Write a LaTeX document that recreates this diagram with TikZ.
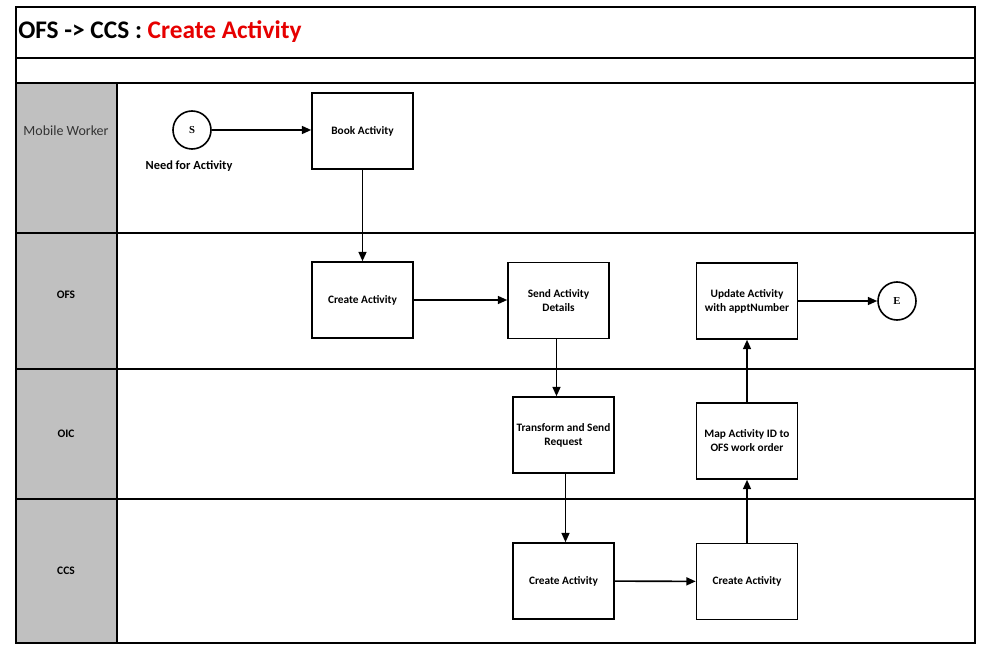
\documentclass[tikz,border=0pt]{standalone}
\usepackage{fontspec}
\setmainfont{Carlito}
\newfontfamily\serifb{Liberation Serif}
\usetikzlibrary{arrows.meta}
\definecolor{lanegray}{RGB}{192,192,192}
\definecolor{titlered}{RGB}{230,0,0}
\begin{document}
\begin{tikzpicture}[x=0.75pt,y=-0.75pt,
  lane/.style={draw=black,line width=0.9pt},
  label/.style={draw=black,line width=0.9pt,fill=lanegray},
  task/.style={draw=black,line width=1.2pt,minimum width=101*0.75pt,minimum height=76*0.75pt,align=center,font=\fontsize{8.5}{10.5}\selectfont\bfseries,inner sep=0pt},
  event/.style={draw=black,line width=1.2pt,circle,minimum size=38*0.75pt,inner sep=0pt,font=\fontsize{8}{9}\selectfont\serifb\bfseries},
  flow/.style={line width=1.2pt,-{Triangle[length=7pt,width=6pt]}},
  lanename/.style={font=\fontsize{8.6}{10}\selectfont\bfseries}]
\useasboundingbox (0,0) rectangle (981,645);
% frame
\draw[lane] (16,7) rectangle (975,643);
\draw[lane] (16,58) -- (975,58);
\node[anchor=west,inner sep=0pt] (title) at (18,32) {\fontsize{19}{22}\selectfont\bfseries OFS -> CCS : \textcolor{titlered}{Create Activity}};
% lanes
\draw[label] (16,233) rectangle (117,369);
\draw[label] (16,369) rectangle (117,499);
\draw[label] (16,499) rectangle (117,643);
\draw[lane] (117,233) rectangle (975,369);
\draw[lane] (117,369) rectangle (975,499);
\draw[lane] (117,499) rectangle (975,643);
\draw[label] (16,83) rectangle (117,233);
\draw[line width=1.6pt] (16,83) rectangle (975,233);
\node (lmw) at (66,131) {\fontsize{10.5}{12}\selectfont\color{black!80} Mobile Worker};
\node[lanename] (lofs) at (66,295) {OFS};
\node[lanename] (loic) at (66,434) {OIC};
\node[lanename] (lccs) at (66,571) {CCS};
% events and tasks
\node[event] (s) at (192,130) {S};
\node[font=\fontsize{9.3}{11}\selectfont\bfseries] (need) at (189,166) {Need for Activity};
\node[task] (book) at (362.5,131) {Book Activity};
\node[task] (create1) at (362.5,300) {Create Activity};
\node[task] (send) at (558.5,300.5) {Send Activity\\Details};
\node[task] (update) at (747,301) {Update Activity\\with apptNumber};
\node[event] (e) at (897,301) {E};
\node[task] (transform) at (563.5,435) {Transform and Send\\Request};
\node[task] (map) at (747,441) {Map Activity ID to\\OFS work order};
\node[task] (create2) at (563.5,581) {Create Activity};
\node[task] (create3) at (747,581.5) {Create Activity};
% flows
\draw[flow] (s) -- (book.west |- s);
\draw[flow] (book) -- (create1);
\draw[flow] (create1) -- (send.west |- create1);
\draw[flow] ([xshift=-1.5]send.south) -- ([xshift=-1.5]send.south |- transform.north);
\draw[flow] ([xshift=1.5]transform.south) -- ([xshift=1.5]transform.south |- create2.north);
\draw[flow] (create2) -- (create3);
\draw[flow] (create3) -- (map);
\draw[flow] (map) -- (update);
\draw[flow] (update) -- (e);
\end{tikzpicture}
\end{document}
